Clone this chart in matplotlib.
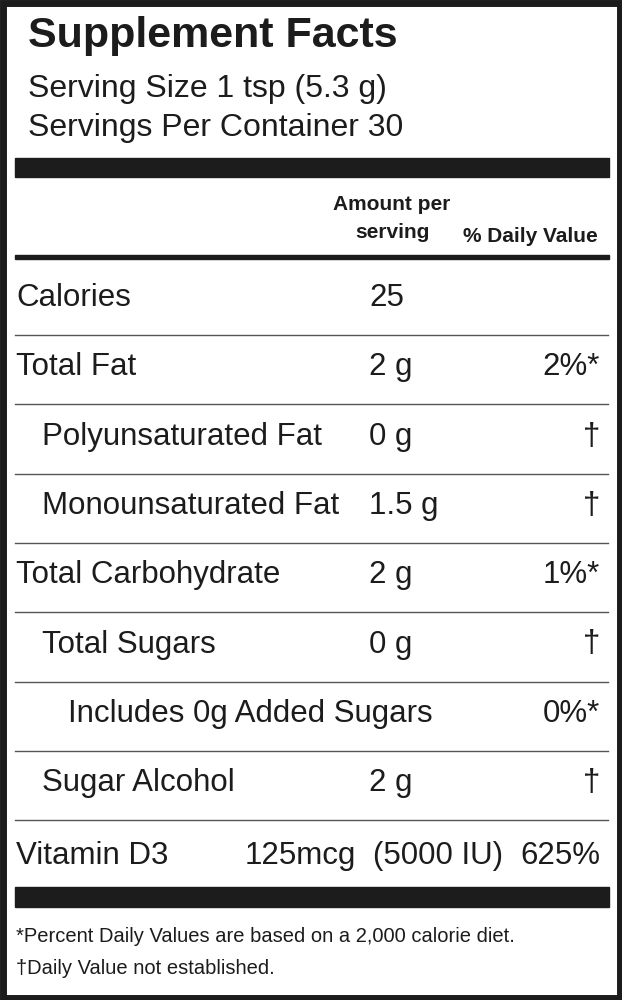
import matplotlib
matplotlib.use("Agg")
import matplotlib.pyplot as plt
from matplotlib.patches import Rectangle

title = "Supplement Facts"
serving_lines = ["Serving Size 1 tsp (5.3 g)", "Servings Per Container 30"]
labels = ["Calories", "Total Fat", "Polyunsaturated Fat", "Monounsaturated Fat",
          "Total Carbohydrate", "Total Sugars", "Includes 0g Added Sugars", "Sugar Alcohol"]
indent = [0, 0, 1, 1, 0, 1, 2, 1]
amounts = ["25", "2 g", "0 g", "1.5 g", "2 g", "0 g", "", "2 g"]
dvs = ["", "2%*", "†", "†", "1%*", "†", "0%*", "†"]
vit_label, vit_amt, vit_iu, vit_dv = "Vitamin D3", "125mcg", "(5000 IU)", "625%"
footnotes = ["*Percent Daily Values are based on a 2,000 calorie diet.",
             "†Daily Value not established."]

FONT = ["Liberation Sans", "DejaVu Sans"]
INK = "#1c1c1c"
RS = 22.5

fig = plt.figure(figsize=(6.22, 10), dpi=100)
ax = fig.add_axes([0, 0, 1, 1])
ax.set_xlim(0, 622); ax.set_ylim(1000, 0); ax.axis("off")

ax.add_patch(Rectangle((2.5, 2.5), 617, 995, fill=False, lw=5, ec=INK))

ax.text(28, 36, title, fontsize=31, fontweight="bold", family=FONT,
        va="center", ha="left", color=INK)
ax.text(28, 89, serving_lines[0], fontsize=23, family=FONT, va="center", color=INK)
ax.text(28, 128, serving_lines[1], fontsize=23, family=FONT, va="center", color=INK)

ax.add_patch(Rectangle((15, 158), 594, 19, color=INK))
ax.text(392, 205, "Amount per", fontsize=15, fontweight="bold", family=FONT, va="center", ha="center", color=INK)
ax.text(392, 233, "serving", fontsize=15, fontweight="bold", family=FONT, va="center", ha="center", color=INK)
ax.text(598, 236, "% Daily Value", fontsize=15, fontweight="bold", family=FONT, va="center", ha="right", color=INK)
ax.add_patch(Rectangle((15, 255), 594, 4, color=INK))

row_h = 69.3
y0 = 298
for i, (lab, ind, am, dv) in enumerate(zip(labels, indent, amounts, dvs)):
    y = y0 + i * row_h
    ax.text(16 + 26 * ind, y, lab, fontsize=RS, family=FONT, va="center", color=INK)
    if am:
        ax.text(369, y, am, fontsize=RS, family=FONT, va="center", color=INK)
    if dv:
        ax.text(600, y, dv, fontsize=RS, family=FONT, va="center", ha="right", color=INK)
    ax.plot([15, 608], [y + 37, y + 37], color="#555555", lw=1)

yv = y0 + 8 * row_h + 4
ax.text(16, yv, vit_label, fontsize=RS, family=FONT, va="center", color=INK)
ax.text(245, yv, vit_amt, fontsize=RS, family=FONT, va="center", color=INK)
ax.text(373, yv, vit_iu, fontsize=RS, family=FONT, va="center", color=INK)
ax.text(600, yv, vit_dv, fontsize=RS, family=FONT, va="center", ha="right", color=INK)

ax.add_patch(Rectangle((15, 887), 594, 20, color=INK))
ax.text(16, 937, footnotes[0], fontsize=14.5, family=FONT, va="center", color=INK)
ax.text(16, 968, footnotes[1], fontsize=14.5, family=FONT, va="center", color=INK)

fig.savefig("out.png", dpi=100, facecolor="white")
